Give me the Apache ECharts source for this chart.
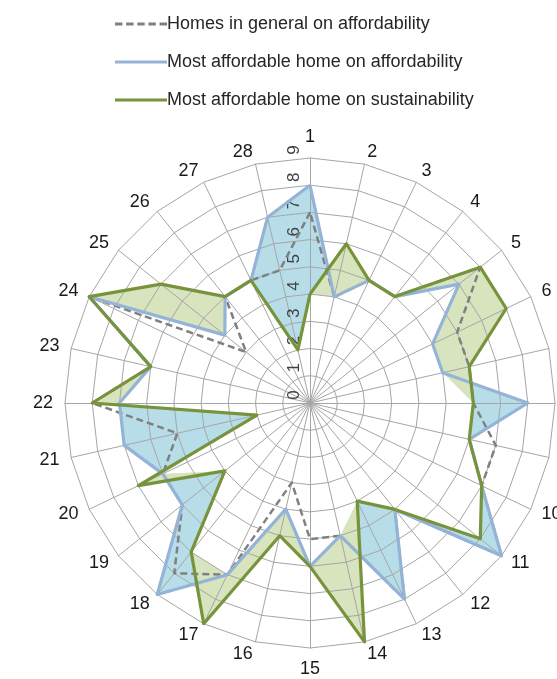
<!DOCTYPE html>
<html><head><meta charset="utf-8">
<script src="https://cdn.jsdelivr.net/npm/echarts@6/dist/echarts.min.js"></script>
<style>html,body{margin:0;padding:0;background:#fff}#c{width:557px;height:679px}</style>
</head><body><div id="c"></div>
<script>
// ---- data ----
const categories = ['1','2','3','4','5','6','7','8','9','10','11','12','13','14','15','16','17','18','19','20','21','22','23','24','25','26','27','28'];
const seriesNames = ['Homes in general on affordability', 'Most affordable home on affordability', 'Most affordable home on sustainability'];
const homesGeneral =            [7,4,5,5,8,6,6,6,7,7,9,5,8,5,5,3,7,8,6,6,5,8,6,9,3,5,5,5];
const affordableOnAffordability = [8,4,5,5,7,5,5,8,6,7,9,5,8,5,6,4,7,9,6,6,7,7,6,9,4,5,5,7];
const affordableOnSustainability = [4,6,5,5,8,8,6,6,6,7,8,5,4,9,6,5,9,7,4,7,2,8,6,9,7,5,5,2];
const valueMin = 0, valueMax = 9;

// ECharts radar runs counter-clockwise; reorder so categories run clockwise from the top
const order = [0].concat(categories.map((_, i) => i).slice(1).reverse());
const ro = arr => order.map(i => arr[i]);
const bothMin = affordableOnAffordability.map((v, i) => Math.min(v, affordableOnSustainability[i]));

const FONT = 'Liberation Sans';
const indicator = order.map((i, k) => {
  const o = { name: categories[i], min: valueMin, max: valueMax };
  if (k === 0) o.axisLabel = { show: true, rotate: 90, fontSize: 17, color: '#404040', fontFamily: FONT, margin: 7, padding: [0, 0, 0, 16] };
  return o;
});

const chart = echarts.init(document.getElementById('c'), null, { renderer: 'canvas' });
const fillSeries = (name, data, color, z) => ({
  type: 'radar', name: name, z: z, silent: true, symbol: 'none',
  lineStyle: { width: 0, opacity: 0 },
  areaStyle: { color: color, opacity: 1 },
  data: [{ value: ro(data), name: name }]
});
const lineSeries = (name, data, color, width, type, z) => ({
  type: 'radar', name: name, z: z, silent: true, symbol: 'none',
  itemStyle: { color: color },
  lineStyle: { color: color, width: width, type: type },
  data: [{ value: ro(data), name: name }]
});
const dashIcon = 'path://M0,0h7v3h-7z M10.5,0h7v3h-7z M21,0h7v3h-7z M31.5,0h7v3h-7z M42,0h7v3h-7z';

chart.setOption({
  animation: false,
  backgroundColor: '#fff',
  legend: {
    orient: 'vertical', left: 110, top: 10, itemWidth: 52, itemHeight: 3, itemGap: 20,
    symbolKeepAspect: false,
    textStyle: { fontFamily: FONT, fontSize: 18, color: '#262626', padding: [0, 0, 0, -5] },
    data: [
      { name: seriesNames[0], icon: dashIcon, itemStyle: { color: '#808080', borderWidth: 0 } },
      { name: seriesNames[1], icon: 'rect', itemStyle: { color: '#95B3D7', borderWidth: 0 } },
      { name: seriesNames[2], icon: 'rect', itemStyle: { color: '#77933C', borderWidth: 0 } }
    ]
  },
  radar: {
    z: 4,
    center: [310, 403], radius: 245, startAngle: 90, splitNumber: 9, shape: 'polygon',
    indicator: indicator,
    axisName: { color: '#1a1a1a', fontSize: 18, fontFamily: FONT },
    axisNameGap: 12,
    axisLine: { lineStyle: { color: '#a6a6a6', width: 1 } },
    splitLine: { lineStyle: { color: '#a6a6a6', width: 1 } },
    splitArea: { show: false },
    axisTick: { show: false },
    axisLabel: { show: false }
  },
  series: [
    fillSeries('fillA', affordableOnAffordability, '#B7DEE8', 1),
    fillSeries('fillB', affordableOnSustainability, '#D7E4BD', 2),
    fillSeries('fillC', bothMin, '#ffffff', 3),
    lineSeries(seriesNames[0], homesGeneral, '#808080', 2.5, [7, 4], 5),
    lineSeries(seriesNames[1], affordableOnAffordability, '#95B3D7', 3.2, 'solid', 6),
    lineSeries(seriesNames[2], affordableOnSustainability, '#77933C', 3.2, 'solid', 7)
  ]
});
</script></body></html>
